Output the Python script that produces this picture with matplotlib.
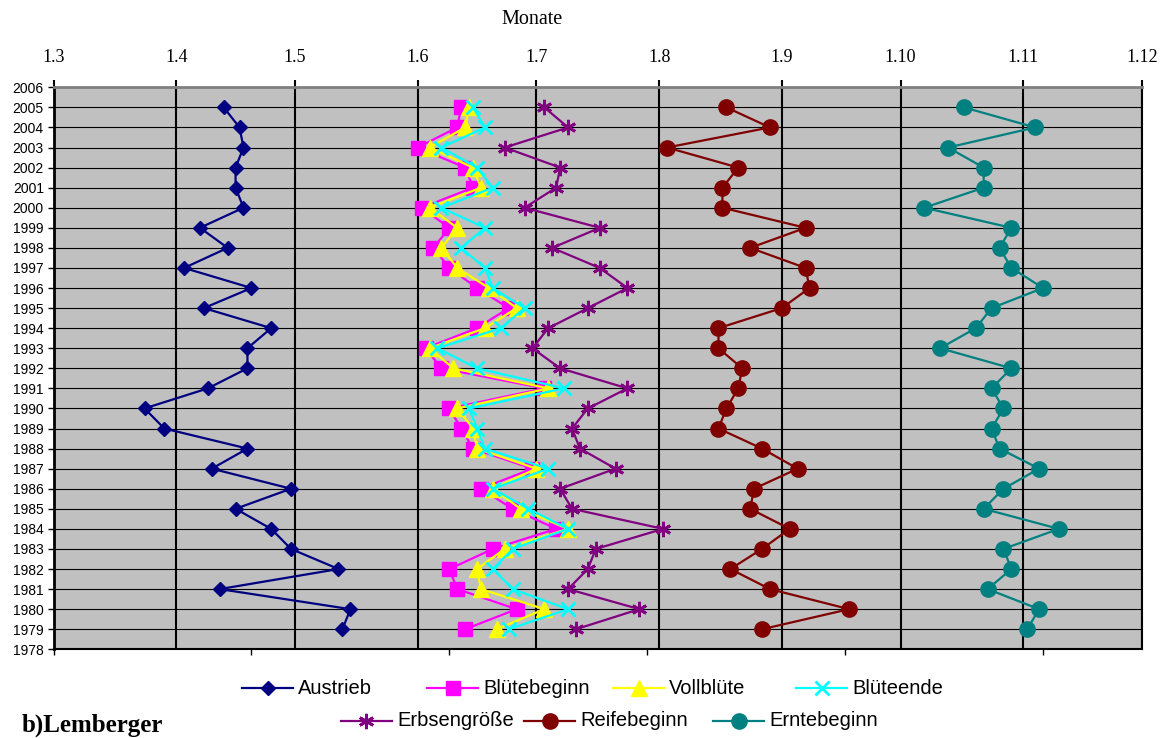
import matplotlib
matplotlib.use("Agg")
import matplotlib.pyplot as plt
from matplotlib.lines import Line2D

# ---------------- data (day of year) ----------------
years = list(range(1979, 2006))

austrieb = [133, 135, 102, 132, 120, 115, 106, 120, 100, 109, 88, 83, 99, 109,
            109, 115, 98, 110, 93, 104, 97, 108, 106, 106, 108, 107, 103]
bluetebeginn = [164, 177, 162, 160, 171, 187, 176, 168, 181, 166, 163, 160, 184, 158,
                154, 167, 175, 167, 160, 156, 160, 153, 166, 164, 152, 162, 163]
vollbluete = [172, 184, 168, 167, 174, 190, 178, 171, 182, 167, 166, 162, 185, 161,
              155, 169, 177, 170, 162, 158, 162, 155, 168, 166, 155, 164, 165]
blueteende = [175, 190, 176, 171, 176, 190, 180, 171, 185, 169, 167, 165, 189, 167,
              157, 173, 179, 171, 169, 163, 169, 158, 171, 167, 158, 169, 166]
erbsengroesse = [192, 208, 190, 195, 197, 214, 191, 188, 202, 193, 191, 195, 205, 188,
                 181, 185, 195, 205, 198, 186, 198, 179, 187, 188, 174, 190, 184]
reifebeginn = [239, 261, 241, 231, 239, 246, 236, 237, 248, 239, 228, 230, 233, 234,
               228, 228, 244, 251, 250, 236, 250, 229, 229, 233, 215, 241, 230]
erntebeginn = [306, 309, 296, 302, 300, 314, 295, 300, 309, 299, 297, 300, 297, 302,
               284, 293, 297, 310, 302, 299, 302, 280, 295, 295, 286, 308, 290]

series_names = ["Austrieb", "Blütebeginn", "Vollblüte", "Blüteende",
                "Erbsengröße", "Reifebeginn", "Erntebeginn"]

month_days = [60, 91, 121, 152, 182, 213, 244, 274, 305, 335]
month_labels = ["1.3", "1.4", "1.5", "1.6", "1.7", "1.8", "1.9", "1.10", "1.11", "1.12"]
bottom_ticks = [60, 110, 160, 210, 260, 310]
year_ticks = list(range(1978, 2007))

# ---------------- styles ----------------
styles = [
    dict(color="#000080", marker="D", ms=7.2, mfc="#000080", mec="#000080", mew=1),
    dict(color="#FF00FF", marker="s", ms=10, mfc="#FF00FF", mec="#FF00FF", mew=1),
    dict(color="#FFFF00", marker="^", ms=11, mfc="#FFFF00", mec="#FFFF00", mew=1),
    dict(color="#00FFFF", marker="x", ms=10, mfc="#00FFFF", mec="#00FFFF", mew=2),
    dict(color="#800080", marker=(6, 2, 0), ms=11, mfc="#800080", mec="#800080", mew=2),
    dict(color="#800000", marker="o", ms=11, mfc="#800000", mec="#800000", mew=1),
    dict(color="#008080", marker="o", ms=11, mfc="#008080", mec="#008080", mew=1),
]
LW = 1.6

W, H = 1171, 738
fig = plt.figure(figsize=(W / 100, H / 100), dpi=100)
fig.patch.set_facecolor("white")

left, right, top, bottom = 53.5, 1142, 87.3, 649.3
ax = fig.add_axes([left / W, 1 - bottom / H, (right - left) / W, (bottom - top) / H])
ax.set_facecolor("#C0C0C0")

all_series = [austrieb, bluetebeginn, vollbluete, blueteende,
              erbsengroesse, reifebeginn, erntebeginn]
for vals, name, st in zip(all_series, series_names, styles):
    ax.plot(vals, years, lw=LW, label=name, zorder=3, clip_on=False, **st)

ax.set_xlim(month_days[0], month_days[-1])
ax.set_ylim(1978, 2006)

# x axis: labels on top at month starts, small ticks at bottom
ax.set_xticks(month_days)
ax.set_xticklabels(month_labels, fontfamily="Liberation Serif", fontsize=13)
ax.set_xticks(bottom_ticks, minor=True)
ax.xaxis.remove_overlapping_locs = False
ax.tick_params(axis="x", which="major", top=True, labeltop=True, bottom=False,
               labelbottom=False, direction="out", length=5, width=1.5, pad=10)
ax.tick_params(axis="x", which="minor", top=False, bottom=True, direction="out",
               length=4, width=1)

# y axis years
ax.set_yticks(year_ticks)
ax.set_yticklabels([str(y) for y in year_ticks], fontfamily="Liberation Sans", fontsize=10)
ax.tick_params(axis="y", which="major", left=True, direction="out", length=4,
               width=1, pad=3)

# grid
ax.set_axisbelow(True)
ax.xaxis.grid(True, which="major", color="black", lw=1.5)
ax.yaxis.grid(True, which="major", color="black", lw=0.8)

for side, (c, lw) in {"left": ("black", 2.0), "bottom": ("black", 1.5),
                      "top": ("#808080", 2.0), "right": ("black", 1.5)}.items():
    ax.spines[side].set_color(c)
    ax.spines[side].set_linewidth(lw)

fig.text(532 / W, 1 - 19 / H, "Monate", fontfamily="Liberation Serif", fontsize=14.5,
         ha="center", va="center")

# ---------------- legend (manual, two rows) ----------------
legend_pos = [(242, 688), (427, 688), (613, 688), (796, 688),
              (341, 721), (524, 721), (713, 721)]
hl = 51
for name, st, (x0, y0) in zip(series_names, styles, legend_pos):
    yf = 1 - y0 / H
    fig.add_artist(Line2D([x0 / W, (x0 + hl) / W], [yf, yf], transform=fig.transFigure,
                          color=st["color"], lw=LW))
    mst = {k: v for k, v in st.items() if k != "color"}
    fig.add_artist(Line2D([(x0 + hl / 2) / W], [yf], transform=fig.transFigure,
                          linestyle="none", **mst))
    fig.text((x0 + hl + 5) / W, yf, name, fontfamily="Liberation Sans", fontsize=14.5,
             ha="left", va="center")

fig.text(22 / W, 1 - 732 / H, "b)Lemberger", fontfamily="Liberation Serif",
         fontweight="bold", fontsize=18, ha="left", va="baseline")

fig.savefig("out.png", dpi=100)
